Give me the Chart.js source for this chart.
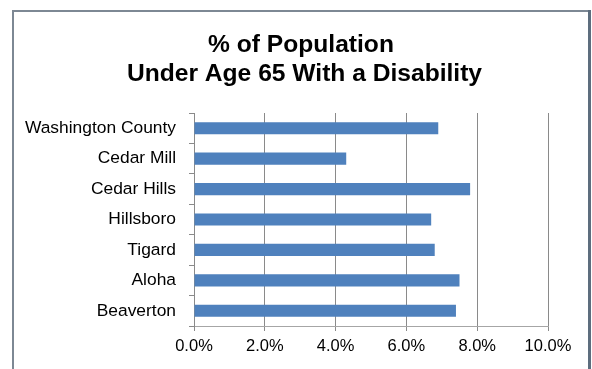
<!DOCTYPE html>
<html>
<head>
<meta charset="utf-8">
<script src="https://cdn.jsdelivr.net/npm/chart.js@4/dist/chart.umd.min.js"></script>
<style>
  html, body { margin: 0; padding: 0; background: #fff; }
  #wrap { width: 592px; height: 369px; position: relative; }
</style>
</head>
<body>
<div id="wrap"><canvas id="c" width="592" height="369"></canvas></div>
<script>
// Share of residents under 65 reporting a disability, by area (percent)
const areas = ['Washington County', 'Cedar Mill', 'Cedar Hills', 'Hillsboro', 'Tigard', 'Aloha', 'Beaverton'];
const disabilityPct = [6.9, 4.3, 7.8, 6.7, 6.8, 7.5, 7.4];
const titleLines = ['% of Population', 'Under Age 65 With a Disability'];
const xTicks = [0, 2, 4, 6, 8, 10];

const FONT = "'Liberation Sans', Arial, sans-serif";

// Frame and two-line heading drawn around the plot
const framePlugin = {
  id: 'frame',
  beforeDraw(chart) {
    const ctx = chart.ctx;
    ctx.save();
    ctx.fillStyle = '#ffffff';
    ctx.fillRect(0, 0, chart.width, chart.height);
    ctx.lineWidth = 2;
    ctx.strokeStyle = '#7d8894';
    ctx.beginPath();
    ctx.moveTo(13, chart.height + 2);
    ctx.lineTo(13, 11);
    ctx.lineTo(589, 11);
    ctx.stroke();
    ctx.lineWidth = 3;
    ctx.strokeStyle = '#5d6d7e';
    ctx.beginPath();
    ctx.moveTo(589.5, 10);
    ctx.lineTo(589.5, chart.height + 2);
    ctx.stroke();
    ctx.restore();
  },
  afterDraw(chart) {
    const ctx = chart.ctx;
    ctx.save();
    ctx.fillStyle = '#000000';
    ctx.font = 'bold 24.6px ' + FONT;
    ctx.textAlign = 'center';
    ctx.textBaseline = 'alphabetic';
    ctx.fillText(titleLines[0], 301, 52);
    ctx.fillText(titleLines[1], 304.5, 81);
    ctx.restore();
  }
};

new Chart(document.getElementById('c'), {
  type: 'bar',
  data: {
    labels: areas,
    datasets: [{
      data: disabilityPct,
      backgroundColor: '#4f81bd',
      borderWidth: 0,
      categoryPercentage: 1,
      barPercentage: 0.4
    }]
  },
  options: {
    indexAxis: 'y',
    responsive: false,
    animation: false,
    devicePixelRatio: 1,
    layout: { padding: { left: 0, right: 44, top: 113, bottom: 0 } },
    plugins: {
      legend: { display: false },
      title: { display: false },
      tooltip: { enabled: false }
    },
    scales: {
      x: {
        type: 'linear',
        min: 0,
        max: 10,
        afterBuildTicks(scale) { scale.ticks = xTicks.map(v => ({ value: v })); },
        afterFit(scale) { scale.height = 43; },
        ticks: {
          color: '#000',
          font: { family: FONT, size: 16.5 },
          padding: 6,
          maxRotation: 0,
          callback: v => v.toFixed(1) + '%'
        },
        grid: { color: '#8a8a8a', lineWidth: 1, tickLength: 5, drawTicks: true },
        border: { display: true, color: '#a6a6a6', width: 1 }
      },
      y: {
        afterFit(scale) { scale.width = 194; },
        ticks: {
          color: '#000',
          font: { family: FONT, size: 17.4 },
          padding: 13
        },
        grid: { drawOnChartArea: false, drawTicks: true, tickLength: 5, color: '#8a8a8a', offset: true },
        border: { display: true, color: '#8a8a8a', width: 1 }
      }
    }
  },
  plugins: [framePlugin]
});
</script>
</body>
</html>
